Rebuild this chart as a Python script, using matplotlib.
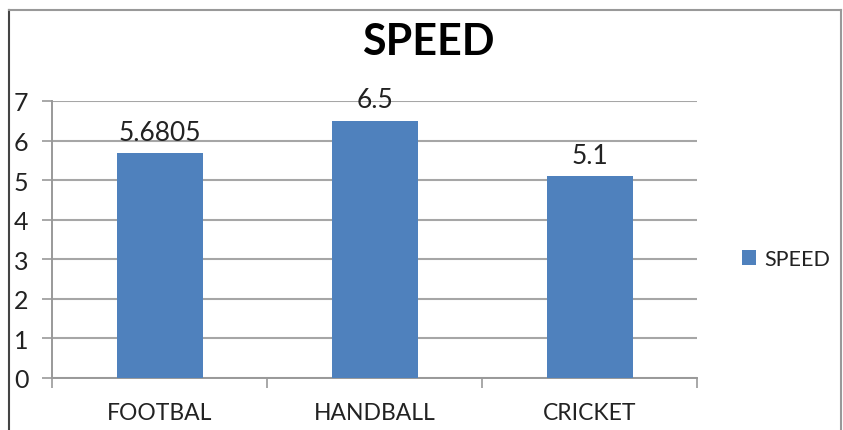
import matplotlib
matplotlib.use("Agg")
import matplotlib.pyplot as plt
from matplotlib.lines import Line2D

categories = ["FOOTBAL", "HANDBALL", "CRICKET"]
speed = [5.6805, 6.5, 5.1]
value_labels = ["5.6805", "6.5", "5.1"]
yticks = [0, 1, 2, 3, 4, 5, 6, 7]
series_name = "SPEED"

W, H = 843, 431
fig = plt.figure(figsize=(W / 100, H / 100), dpi=100)
plt.rcParams['font.family'] = ['Lato', 'DejaVu Sans']

ax = fig.add_axes([52 / W, 1 - 379 / H, (697 - 52) / W, (379 - 102) / H])
bar_color = "#4F81BD"
x = list(range(len(categories)))
bars = ax.bar(x, speed, width=0.4, color=bar_color, label=series_name, zorder=3)

ax.set_xlim(-0.5, len(categories) - 0.5)
ax.set_ylim(0, 7)
ax.set_yticks(yticks)
ax.set_yticklabels([str(t) for t in yticks], fontsize=18, color="#222222")
ax.yaxis.grid(True, color="#a6a6a6", linewidth=1.5, zorder=0)

# x ticks at category boundaries, labels at centers
ax.set_xticks([i - 0.5 for i in range(len(categories) + 1)])
ax.set_xticklabels([])
ax.set_xticks(x, minor=True)
ax.set_xticklabels(categories, minor=True, fontsize=16.5, color="#222222")
ax.tick_params(axis="x", which="minor", length=0, pad=17)
ax.tick_params(axis="x", which="major", length=7, width=1.2, color="#999999")
ax.tick_params(axis="y", length=7, width=1.2, color="#999999", pad=10)

for s in ["top", "right"]:
    ax.spines[s].set_visible(False)
for s in ["left", "bottom"]:
    ax.spines[s].set_color("#999999")
    ax.spines[s].set_linewidth(1.4)

for xi, v, lab in zip(x, speed, value_labels):
    ax.annotate(lab, (xi, v), xytext=(0, 6), textcoords="offset points",
                ha="center", va="bottom", fontsize=19, color="#222222")

fig.text(428 / W, 1 - 42 / H, "SPEED", ha="center", va="center",
         fontsize=31, fontweight="bold", color="#000000")

leg = fig.legend(handles=[bars], labels=[series_name], loc="center left",
                 bbox_to_anchor=(742 / W, 1 - 260 / H), frameon=False,
                 borderaxespad=0, borderpad=0,
                 fontsize=15.5, handlelength=0.65, handleheight=0.65,
                 handletextpad=0.4)
for t in leg.get_texts():
    t.set_color("#222222")

# figure border
fig.add_artist(Line2D([9 / W, 9 / W], [0, 1 - 10.5 / H], transform=fig.transFigure,
                      color="#444444", linewidth=1.5))
fig.add_artist(Line2D([9 / W, 841 / W], [1 - 10.5 / H, 1 - 10.5 / H], transform=fig.transFigure,
                      color="#999999", linewidth=1.5))
fig.add_artist(Line2D([841 / W, 841 / W], [0, 1 - 10.5 / H], transform=fig.transFigure,
                      color="#999999", linewidth=1.5))

fig.savefig("out.png", dpi=100)
